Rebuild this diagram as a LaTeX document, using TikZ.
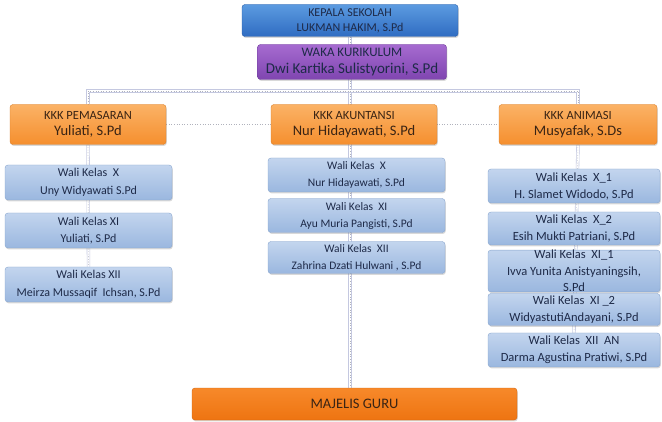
\documentclass[tikz,border=0pt]{standalone}
\usepackage{fontspec}
\setmainfont{Carlito}
\usetikzlibrary{shadows,backgrounds}
\definecolor{kepT}{HTML}{5C9BE0}
\definecolor{kepB}{HTML}{2F6CC2}
\definecolor{kepD}{HTML}{2A5EA8}
\definecolor{wakT}{HTML}{A66BD0}
\definecolor{wakB}{HTML}{7F45B0}
\definecolor{wakD}{HTML}{6E3C9A}
\definecolor{kkT}{HTML}{FBB266}
\definecolor{kkB}{HTML}{F58F2E}
\definecolor{kkD}{HTML}{D9802C}
\definecolor{waT}{HTML}{C3D5EE}
\definecolor{waB}{HTML}{9AB7DF}
\definecolor{waD}{HTML}{89A6CE}
\definecolor{mgT}{HTML}{F7892A}
\definecolor{mgB}{HTML}{EE7411}
\definecolor{mgD}{HTML}{D0650F}
\definecolor{navy}{HTML}{1E2A48}
\definecolor{dk}{HTML}{3A2414}
\definecolor{connC}{HTML}{C4C8E0}
\definecolor{dotC}{HTML}{B0B2BC}
\newcommand\myconnectors[1]{%
  \draw[#1] (kep.south) -- (kep.south |- mg.north);
  \draw[#1] (pem.north) |- (hb) -| (ani.north);
  \draw[#1] (pem.east) -- (ani.west |- pem.east);
  \draw[#1] (pem.south) -- (l3.north);
  \draw[#1] (ani.south) -- (r5.north);
}
\begin{document}
\begin{tikzpicture}[x=1pt,y=-1pt,
  box/.style={rounded corners=3pt, align=center, inner sep=0pt, line width=0.4pt,
    drop shadow={opacity=0.3,shadow xshift=0.8pt,shadow yshift=-1.4pt}},
  kepbox/.style={box, top color=kepT, bottom color=kepB, draw=kepD, text=navy,
    font=\fontsize{12}{15}\selectfont},
  wakbox/.style={box, top color=wakT, bottom color=wakB, draw=wakD, text=navy,
    font=\fontsize{15}{17}\selectfont},
  kkbox/.style={box, top color=kkT, bottom color=kkB, draw=kkD, text=dk,
    font=\fontsize{14.5}{16.5}\selectfont},
  wabox/.style={box, top color=waT, bottom color=waB, draw=waD, text=navy,
    font=\fontsize{12}{17.5}\selectfont},
  wamid/.style={wabox, font=\fontsize{11.5}{17}\selectfont},
  wari/.style={wabox, font=\fontsize{12.5}{17}\selectfont},
  mgbox/.style={box, top color=mgT, bottom color=mgB, draw=mgD, text=dk,
    font=\fontsize{14.5}{16}\selectfont},
  connout/.style={draw=connC, line width=0.6pt, double=white, double distance=2.2pt},
  conndot/.style={draw=dotC, line width=0.6pt, dotted},
]
\useasboundingbox (0,0) rectangle (662,422);
% top
\node[kepbox, minimum width=216pt, minimum height=32pt] (kep) at (350,20.5)
  {KEPALA SEKOLAH\\LUKMAN HAKIM, S.Pd};
\node[wakbox, minimum width=189pt, minimum height=35pt] (waka) at (352,62)
  {{\fontsize{13}{17}\selectfont WAKA KURIKULUM}\\Dwi Kartika Sulistyorini, S.Pd};
% KKK
\node[kkbox, minimum width=156pt, minimum height=40pt] (pem) at (88,124.5)
  {{\fontsize{12.5}{16.5}\selectfont KKK PEMASARAN}\\Yuliati, S.Pd};
\node[kkbox, minimum width=166pt, minimum height=40pt] (ak) at (354,124.5)
  {{\fontsize{12.5}{16.5}\selectfont KKK AKUNTANSI}\\Nur Hidayawati, S.Pd};
\node[kkbox, minimum width=158pt, minimum height=40pt] (ani) at (578,124.5)
  {{\fontsize{12.5}{16.5}\selectfont KKK ANIMASI}\\Musyafak, S.Ds};
% left column
\node[wabox, minimum width=167pt, minimum height=35pt] (l1) at (88.5,182.5)
  {Wali Kelas\ \ X\\Uny Widyawati S.Pd};
\node[wabox, minimum width=167pt, minimum height=35pt] (l2) at (88.5,230.5)
  {Wali Kelas XI\\Yuliati, S.Pd};
\node[wabox, minimum width=167pt, minimum height=35pt] (l3) at (88.5,284.5)
  {Wali Kelas XII\\Meirza Mussaqif\ \ Ichsan, S.Pd};
% middle column
\node[wamid, minimum width=177pt, minimum height=34pt] (m1) at (356.5,175)
  {Wali Kelas\ \ X\\Nur Hidayawati, S.Pd};
\node[wamid, minimum width=177pt, minimum height=34pt] (m2) at (356.5,215.5)
  {Wali Kelas\ \ XI\\Ayu Muria Pangisti, S.Pd};
\node[wamid, minimum width=177pt, minimum height=32pt] (m3) at (356.5,257.5)
  {Wali Kelas\ \ XII\\Zahrina Dzati Hulwani , S.Pd};
% right column
\node[wari, minimum width=172pt, minimum height=34pt] (r1) at (574,186)
  {Wali Kelas\ \ X\_1\\H. Slamet Widodo, S.Pd};
\node[wari, minimum width=172pt, minimum height=33pt] (r2) at (574,228.5)
  {Wali Kelas\ \ X\_2\\Esih Mukti Patriani, S.Pd};
\node[wari, minimum width=172pt, minimum height=37pt, font=\fontsize{12.5}{16.5}\selectfont] (r3) at (574,271)
  {Wali Kelas\ \ XI\_1\\Ivva Yunita Anistyaningsih,\\S.Pd};
\node[wari, minimum width=172pt, minimum height=32pt] (r4) at (574,309.5)
  {Wali Kelas\ \ XI \_2\\WidyastutiAndayani, S.Pd};
\node[wari, minimum width=172pt, minimum height=34pt] (r5) at (574,350)
  {Wali Kelas\ \ XII\ \ AN\\Darma Agustina Pratiwi, S.Pd};
% bottom
\node[mgbox, minimum width=325pt, minimum height=32pt] (mg) at (354.5,404)
  {MAJELIS GURU};
\coordinate (hb) at (353,91);
\begin{scope}[on background layer]
  \myconnectors{connout}
  \myconnectors{conndot}
\end{scope}
\end{tikzpicture}
\end{document}
